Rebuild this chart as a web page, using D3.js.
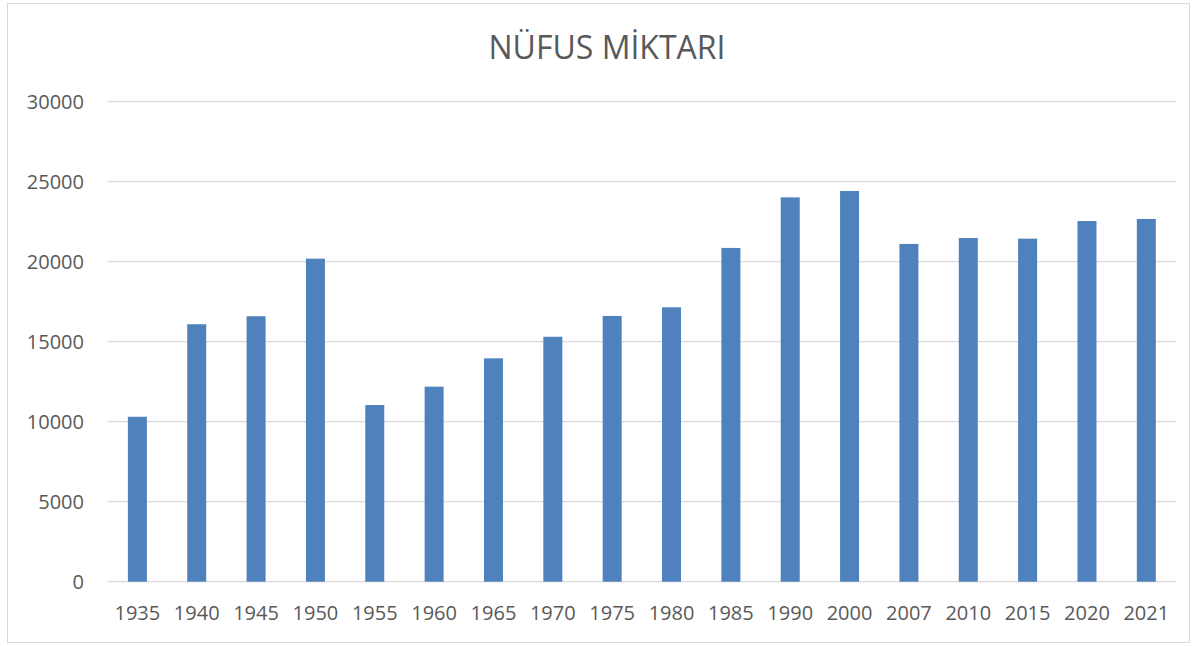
<!DOCTYPE html>
<html>
<head>
<meta charset="utf-8">
<script src="https://cdn.jsdelivr.net/npm/d3@7"></script>
<style>
  body { margin: 0; background: #fff; }
  svg text { font-family: "Open Sans", "Noto Sans", sans-serif; fill: #595959; }
</style>
</head>
<body>
<div id="chart"></div>
<script>
// ---------- DATA ----------
var years = ["1935", "1940", "1945", "1950", "1955", "1960", "1965", "1970", "1975",
             "1980", "1985", "1990", "2000", "2007", "2010", "2015", "2020", "2021"];
var population = [10310, 16090, 16590, 20190, 11040, 12190, 13960, 15310, 16610,
                  17150, 20860, 24020, 24420, 21110, 21480, 21440, 22540, 22670];
var yTicks = [0, 5000, 10000, 15000, 20000, 25000, 30000];
var title = "NÜFUS MİKTARI";

(function() {
    var width = 1197,
        height = 646;

    var svg = d3.select("#chart")
        .append("svg")
        .attr("width", width)
        .attr("height", height);

    // chart frame
    svg.append("rect")
        .attr("x", 7.5).attr("y", 3.5)
        .attr("width", 1182).attr("height", 639)
        .attr("fill", "#fff")
        .attr("stroke", "#d9d9d9")
        .attr("stroke-width", 1);

    var left = 107.7, right = 1176, top = 101.7, bottom = 581.7;

    var x = d3.scaleBand()
        .domain(years)
        .range([left, right])
        .paddingInner(0.68)
        .paddingOuter(0.34);

    var y = d3.scaleLinear()
        .domain([0, 30000])
        .range([bottom, top]);

    // gridlines
    svg.append("g")
        .selectAll("line")
        .data(yTicks)
        .enter().append("line")
        .attr("x1", left).attr("x2", right)
        .attr("y1", function(d) { return y(d); })
        .attr("y2", function(d) { return y(d); })
        .attr("stroke", "#d9d9d9")
        .attr("stroke-width", 1.3);

    // y labels
    svg.append("g")
        .selectAll("text")
        .data(yTicks)
        .enter().append("text")
        .attr("x", 84)
        .attr("y", function(d) { return y(d); })
        .attr("dy", "0.35em")
        .attr("text-anchor", "end")
        .style("font-size", "20px")
        .text(function(d) { return d; });

    // bars
    svg.append("g")
        .selectAll("rect")
        .data(years)
        .enter().append("rect")
        .attr("x", function(d) { return x(d); })
        .attr("width", x.bandwidth())
        .attr("y", function(d, i) { return y(population[i]); })
        .attr("height", function(d, i) { return bottom - y(population[i]); })
        .attr("fill", "#4f81bd");

    // x labels
    svg.append("g")
        .selectAll("text")
        .data(years)
        .enter().append("text")
        .attr("x", function(d) { return x(d) + x.bandwidth() / 2; })
        .attr("y", 613)
        .attr("dy", "0.35em")
        .attr("text-anchor", "middle")
        .style("font-size", "20px")
        .text(function(d) { return d; });

    // title
    svg.append("text")
        .attr("x", 607)
        .attr("y", 48)
        .attr("dy", "0.35em")
        .attr("text-anchor", "middle")
        .style("font-size", "32px")
        .text(title);
})();
</script>
</body>
</html>
